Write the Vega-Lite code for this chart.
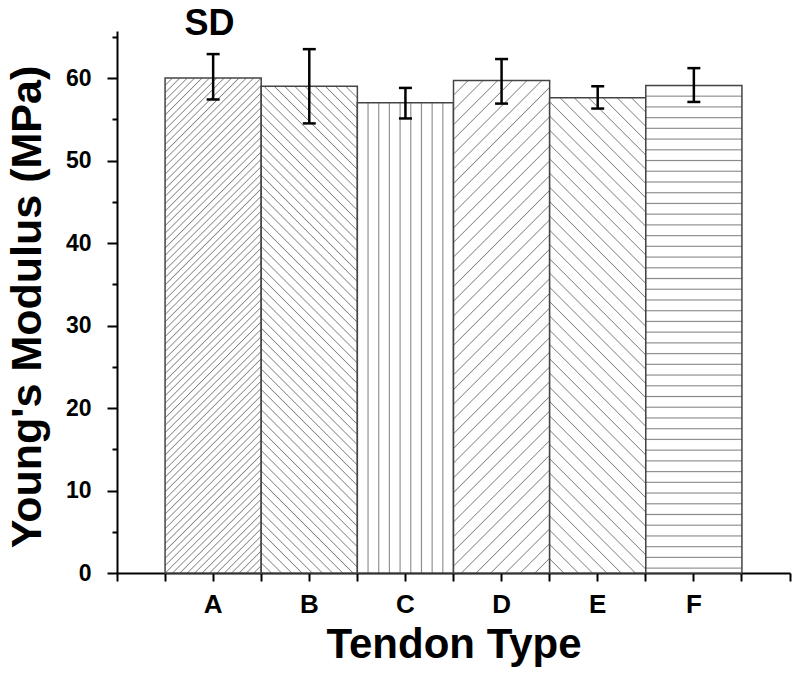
{
"$schema": "https://vega.github.io/schema/vega-lite/v6.json",
"width": 673, "height": 542,
"autosize": {"type": "none"},
"padding": {"left": 117, "top": 31, "right": 10, "bottom": 103},
"background": "white",
"title": {"text": "SD", "anchor": "start", "frame": "group", "orient": "top", "font": "Liberation Sans", "fontSize": 36, "fontWeight": "bold", "color": "#000", "baseline": "alphabetic", "offset": 0, "dx": 67.5, "dy": 40},
"config": {"view": {"stroke": null}, "axis": {"domainColor": "#000", "domainWidth": 2, "tickColor": "#000", "tickWidth": 2, "grid": false, "zindex": 1, "labelFont": "Liberation Sans", "labelFontWeight": "bold", "labelColor": "#000", "titleFont": "Liberation Sans", "titleFontWeight": "bold", "titleColor": "#000"}},
"data": {"values": [
{"type": "A", "mean": 60.0, "lo": 57.4, "hi": 62.9},
{"type": "B", "mean": 59.0, "lo": 54.5, "hi": 63.5},
{"type": "C", "mean": 57.0, "lo": 55.1, "hi": 58.8},
{"type": "D", "mean": 59.7, "lo": 56.9, "hi": 62.3},
{"type": "E", "mean": 57.6, "lo": 56.3, "hi": 59.0},
{"type": "F", "mean": 59.1, "lo": 57.1, "hi": 61.2}
]},
"resolve": {"axis": {"x": "independent", "y": "independent"}},
"layer": [
{"transform": [{"filter": "datum.type === 'A'"}],
 "mark": {"type": "bar", "stroke": "#444", "strokeWidth": 1.5, "fill": {"gradient": "linear", "x1": 0, "y1": 0, "x2": 0.22352, "y2": 1.15084, "stops": [
{"offset":0,"color":"#888"},{"offset":0.002,"color":"#fff"},{"offset":0.0105,"color":"#fff"},
{"offset":0.0125,"color":"#888"},{"offset":0.0145,"color":"#fff"},{"offset":0.023,"color":"#fff"},
{"offset":0.025,"color":"#888"},{"offset":0.027,"color":"#fff"},{"offset":0.0355,"color":"#fff"},
{"offset":0.0375,"color":"#888"},{"offset":0.0395,"color":"#fff"},{"offset":0.048,"color":"#fff"},
{"offset":0.05,"color":"#888"},{"offset":0.052,"color":"#fff"},{"offset":0.0605,"color":"#fff"},
{"offset":0.0625,"color":"#888"},{"offset":0.0645,"color":"#fff"},{"offset":0.073,"color":"#fff"},
{"offset":0.075,"color":"#888"},{"offset":0.077,"color":"#fff"},{"offset":0.0855,"color":"#fff"},
{"offset":0.0875,"color":"#888"},{"offset":0.0895,"color":"#fff"},{"offset":0.098,"color":"#fff"},
{"offset":0.1,"color":"#888"},{"offset":0.102,"color":"#fff"},{"offset":0.1105,"color":"#fff"},
{"offset":0.1125,"color":"#888"},{"offset":0.1145,"color":"#fff"},{"offset":0.123,"color":"#fff"},
{"offset":0.125,"color":"#888"},{"offset":0.127,"color":"#fff"},{"offset":0.1355,"color":"#fff"},
{"offset":0.1375,"color":"#888"},{"offset":0.1395,"color":"#fff"},{"offset":0.148,"color":"#fff"},
{"offset":0.15,"color":"#888"},{"offset":0.152,"color":"#fff"},{"offset":0.1605,"color":"#fff"},
{"offset":0.1625,"color":"#888"},{"offset":0.1645,"color":"#fff"},{"offset":0.173,"color":"#fff"},
{"offset":0.175,"color":"#888"},{"offset":0.177,"color":"#fff"},{"offset":0.1855,"color":"#fff"},
{"offset":0.1875,"color":"#888"},{"offset":0.1895,"color":"#fff"},{"offset":0.198,"color":"#fff"},
{"offset":0.2,"color":"#888"},{"offset":0.202,"color":"#fff"},{"offset":0.2105,"color":"#fff"},
{"offset":0.2125,"color":"#888"},{"offset":0.2145,"color":"#fff"},{"offset":0.223,"color":"#fff"},
{"offset":0.225,"color":"#888"},{"offset":0.227,"color":"#fff"},{"offset":0.2355,"color":"#fff"},
{"offset":0.2375,"color":"#888"},{"offset":0.2395,"color":"#fff"},{"offset":0.248,"color":"#fff"},
{"offset":0.25,"color":"#888"},{"offset":0.252,"color":"#fff"},{"offset":0.2605,"color":"#fff"},
{"offset":0.2625,"color":"#888"},{"offset":0.2645,"color":"#fff"},{"offset":0.273,"color":"#fff"},
{"offset":0.275,"color":"#888"},{"offset":0.277,"color":"#fff"},{"offset":0.2855,"color":"#fff"},
{"offset":0.2875,"color":"#888"},{"offset":0.2895,"color":"#fff"},{"offset":0.298,"color":"#fff"},
{"offset":0.3,"color":"#888"},{"offset":0.302,"color":"#fff"},{"offset":0.3105,"color":"#fff"},
{"offset":0.3125,"color":"#888"},{"offset":0.3145,"color":"#fff"},{"offset":0.323,"color":"#fff"},
{"offset":0.325,"color":"#888"},{"offset":0.327,"color":"#fff"},{"offset":0.3355,"color":"#fff"},
{"offset":0.3375,"color":"#888"},{"offset":0.3395,"color":"#fff"},{"offset":0.348,"color":"#fff"},
{"offset":0.35,"color":"#888"},{"offset":0.352,"color":"#fff"},{"offset":0.3605,"color":"#fff"},
{"offset":0.3625,"color":"#888"},{"offset":0.3645,"color":"#fff"},{"offset":0.373,"color":"#fff"},
{"offset":0.375,"color":"#888"},{"offset":0.377,"color":"#fff"},{"offset":0.3855,"color":"#fff"},
{"offset":0.3875,"color":"#888"},{"offset":0.3895,"color":"#fff"},{"offset":0.398,"color":"#fff"},
{"offset":0.4,"color":"#888"},{"offset":0.402,"color":"#fff"},{"offset":0.4105,"color":"#fff"},
{"offset":0.4125,"color":"#888"},{"offset":0.4145,"color":"#fff"},{"offset":0.423,"color":"#fff"},
{"offset":0.425,"color":"#888"},{"offset":0.427,"color":"#fff"},{"offset":0.4355,"color":"#fff"},
{"offset":0.4375,"color":"#888"},{"offset":0.4395,"color":"#fff"},{"offset":0.448,"color":"#fff"},
{"offset":0.45,"color":"#888"},{"offset":0.452,"color":"#fff"},{"offset":0.4605,"color":"#fff"},
{"offset":0.4625,"color":"#888"},{"offset":0.4645,"color":"#fff"},{"offset":0.473,"color":"#fff"},
{"offset":0.475,"color":"#888"},{"offset":0.477,"color":"#fff"},{"offset":0.4855,"color":"#fff"},
{"offset":0.4875,"color":"#888"},{"offset":0.4895,"color":"#fff"},{"offset":0.498,"color":"#fff"},
{"offset":0.5,"color":"#888"},{"offset":0.502,"color":"#fff"},{"offset":0.5105,"color":"#fff"},
{"offset":0.5125,"color":"#888"},{"offset":0.5145,"color":"#fff"},{"offset":0.523,"color":"#fff"},
{"offset":0.525,"color":"#888"},{"offset":0.527,"color":"#fff"},{"offset":0.5355,"color":"#fff"},
{"offset":0.5375,"color":"#888"},{"offset":0.5395,"color":"#fff"},{"offset":0.548,"color":"#fff"},
{"offset":0.55,"color":"#888"},{"offset":0.552,"color":"#fff"},{"offset":0.5605,"color":"#fff"},
{"offset":0.5625,"color":"#888"},{"offset":0.5645,"color":"#fff"},{"offset":0.573,"color":"#fff"},
{"offset":0.575,"color":"#888"},{"offset":0.577,"color":"#fff"},{"offset":0.5855,"color":"#fff"},
{"offset":0.5875,"color":"#888"},{"offset":0.5895,"color":"#fff"},{"offset":0.598,"color":"#fff"},
{"offset":0.6,"color":"#888"},{"offset":0.602,"color":"#fff"},{"offset":0.6105,"color":"#fff"},
{"offset":0.6125,"color":"#888"},{"offset":0.6145,"color":"#fff"},{"offset":0.623,"color":"#fff"},
{"offset":0.625,"color":"#888"},{"offset":0.627,"color":"#fff"},{"offset":0.6355,"color":"#fff"},
{"offset":0.6375,"color":"#888"},{"offset":0.6395,"color":"#fff"},{"offset":0.648,"color":"#fff"},
{"offset":0.65,"color":"#888"},{"offset":0.652,"color":"#fff"},{"offset":0.6605,"color":"#fff"},
{"offset":0.6625,"color":"#888"},{"offset":0.6645,"color":"#fff"},{"offset":0.673,"color":"#fff"},
{"offset":0.675,"color":"#888"},{"offset":0.677,"color":"#fff"},{"offset":0.6855,"color":"#fff"},
{"offset":0.6875,"color":"#888"},{"offset":0.6895,"color":"#fff"},{"offset":0.698,"color":"#fff"},
{"offset":0.7,"color":"#888"},{"offset":0.702,"color":"#fff"},{"offset":0.7105,"color":"#fff"},
{"offset":0.7125,"color":"#888"},{"offset":0.7145,"color":"#fff"},{"offset":0.723,"color":"#fff"},
{"offset":0.725,"color":"#888"},{"offset":0.727,"color":"#fff"},{"offset":0.7355,"color":"#fff"},
{"offset":0.7375,"color":"#888"},{"offset":0.7395,"color":"#fff"},{"offset":0.748,"color":"#fff"},
{"offset":0.75,"color":"#888"},{"offset":0.752,"color":"#fff"},{"offset":0.7605,"color":"#fff"},
{"offset":0.7625,"color":"#888"},{"offset":0.7645,"color":"#fff"},{"offset":0.773,"color":"#fff"},
{"offset":0.775,"color":"#888"},{"offset":0.777,"color":"#fff"},{"offset":0.7855,"color":"#fff"},
{"offset":0.7875,"color":"#888"},{"offset":0.7895,"color":"#fff"},{"offset":0.798,"color":"#fff"},
{"offset":0.8,"color":"#888"},{"offset":0.802,"color":"#fff"},{"offset":0.8105,"color":"#fff"},
{"offset":0.8125,"color":"#888"},{"offset":0.8145,"color":"#fff"},{"offset":0.823,"color":"#fff"},
{"offset":0.825,"color":"#888"},{"offset":0.827,"color":"#fff"},{"offset":0.8355,"color":"#fff"},
{"offset":0.8375,"color":"#888"},{"offset":0.8395,"color":"#fff"},{"offset":0.848,"color":"#fff"},
{"offset":0.85,"color":"#888"},{"offset":0.852,"color":"#fff"},{"offset":0.8605,"color":"#fff"},
{"offset":0.8625,"color":"#888"},{"offset":0.8645,"color":"#fff"},{"offset":0.873,"color":"#fff"},
{"offset":0.875,"color":"#888"},{"offset":0.877,"color":"#fff"},{"offset":0.8855,"color":"#fff"},
{"offset":0.8875,"color":"#888"},{"offset":0.8895,"color":"#fff"},{"offset":0.898,"color":"#fff"},
{"offset":0.9,"color":"#888"},{"offset":0.902,"color":"#fff"},{"offset":0.9105,"color":"#fff"},
{"offset":0.9125,"color":"#888"},{"offset":0.9145,"color":"#fff"},{"offset":0.923,"color":"#fff"},
{"offset":0.925,"color":"#888"},{"offset":0.927,"color":"#fff"},{"offset":0.9355,"color":"#fff"},
{"offset":0.9375,"color":"#888"},{"offset":0.9395,"color":"#fff"},{"offset":0.948,"color":"#fff"},
{"offset":0.95,"color":"#888"},{"offset":0.952,"color":"#fff"},{"offset":0.9605,"color":"#fff"},
{"offset":0.9625,"color":"#888"},{"offset":0.9645,"color":"#fff"},{"offset":0.973,"color":"#fff"},
{"offset":0.975,"color":"#888"},{"offset":0.977,"color":"#fff"},{"offset":0.9855,"color":"#fff"},
{"offset":0.9875,"color":"#888"},{"offset":0.9895,"color":"#fff"},{"offset":0.998,"color":"#fff"},
{"offset":1,"color":"#888"}
 ]}},
 "encoding": {
  "x": {"field": "type", "type": "nominal", "scale": {"domain": ["A","B","C","D","E","F"], "paddingInner": 0, "paddingOuter": 0.5},
        "axis": {"orient": "bottom", "title": "Tendon Type", "titleFontSize": 42, "titleX": 336.5, "titleY": 84, "titleAlign": "center", "titleBaseline": "alphabetic", "labelAngle": 0, "labelFontSize": 26, "labelBaseline": "alphabetic", "labelPadding": 31, "tickSize": 8}},
  "y": {"field": "mean", "type": "quantitative", "scale": {"domain": [0, 65.7], "nice": false, "zero": true},
        "axis": {"orient": "left", "values": [0,10,20,30,40,50,60], "title": "Young's Modulus (MPa)", "titleFontSize": 43, "titleAngle": -90, "titleX": -77, "titleY": 275.5, "titleAlign": "center", "titleBaseline": "alphabetic", "labelFontSize": 23, "labelPadding": 16, "tickSize": 10}}
 }},
{"transform": [{"filter": "datum.type === 'B'"}],
 "mark": {"type": "bar", "stroke": "#444", "strokeWidth": 1.5, "fill": {"gradient": "linear", "x1": 0, "y1": 1, "x2": 0.22767, "y2": -0.15256, "stops": [
{"offset":0,"color":"#888"},{"offset":0.002,"color":"#fff"},{"offset":0.0155,"color":"#fff"},
{"offset":0.0175,"color":"#888"},{"offset":0.0195,"color":"#fff"},{"offset":0.033,"color":"#fff"},
{"offset":0.035,"color":"#888"},{"offset":0.037,"color":"#fff"},{"offset":0.0505,"color":"#fff"},
{"offset":0.0525,"color":"#888"},{"offset":0.0545,"color":"#fff"},{"offset":0.068,"color":"#fff"},
{"offset":0.07,"color":"#888"},{"offset":0.072,"color":"#fff"},{"offset":0.0855,"color":"#fff"},
{"offset":0.0875,"color":"#888"},{"offset":0.0895,"color":"#fff"},{"offset":0.103,"color":"#fff"},
{"offset":0.105,"color":"#888"},{"offset":0.107,"color":"#fff"},{"offset":0.1205,"color":"#fff"},
{"offset":0.1225,"color":"#888"},{"offset":0.1245,"color":"#fff"},{"offset":0.138,"color":"#fff"},
{"offset":0.14,"color":"#888"},{"offset":0.142,"color":"#fff"},{"offset":0.1555,"color":"#fff"},
{"offset":0.1575,"color":"#888"},{"offset":0.1595,"color":"#fff"},{"offset":0.173,"color":"#fff"},
{"offset":0.175,"color":"#888"},{"offset":0.177,"color":"#fff"},{"offset":0.1905,"color":"#fff"},
{"offset":0.1925,"color":"#888"},{"offset":0.1945,"color":"#fff"},{"offset":0.208,"color":"#fff"},
{"offset":0.21,"color":"#888"},{"offset":0.212,"color":"#fff"},{"offset":0.2255,"color":"#fff"},
{"offset":0.2275,"color":"#888"},{"offset":0.2295,"color":"#fff"},{"offset":0.243,"color":"#fff"},
{"offset":0.245,"color":"#888"},{"offset":0.247,"color":"#fff"},{"offset":0.2605,"color":"#fff"},
{"offset":0.2625,"color":"#888"},{"offset":0.2645,"color":"#fff"},{"offset":0.278,"color":"#fff"},
{"offset":0.28,"color":"#888"},{"offset":0.282,"color":"#fff"},{"offset":0.2955,"color":"#fff"},
{"offset":0.2975,"color":"#888"},{"offset":0.2995,"color":"#fff"},{"offset":0.313,"color":"#fff"},
{"offset":0.315,"color":"#888"},{"offset":0.317,"color":"#fff"},{"offset":0.3305,"color":"#fff"},
{"offset":0.3325,"color":"#888"},{"offset":0.3345,"color":"#fff"},{"offset":0.348,"color":"#fff"},
{"offset":0.35,"color":"#888"},{"offset":0.352,"color":"#fff"},{"offset":0.3655,"color":"#fff"},
{"offset":0.3675,"color":"#888"},{"offset":0.3695,"color":"#fff"},{"offset":0.383,"color":"#fff"},
{"offset":0.385,"color":"#888"},{"offset":0.387,"color":"#fff"},{"offset":0.4005,"color":"#fff"},
{"offset":0.4025,"color":"#888"},{"offset":0.4045,"color":"#fff"},{"offset":0.418,"color":"#fff"},
{"offset":0.42,"color":"#888"},{"offset":0.422,"color":"#fff"},{"offset":0.4355,"color":"#fff"},
{"offset":0.4375,"color":"#888"},{"offset":0.4395,"color":"#fff"},{"offset":0.453,"color":"#fff"},
{"offset":0.455,"color":"#888"},{"offset":0.457,"color":"#fff"},{"offset":0.4705,"color":"#fff"},
{"offset":0.4725,"color":"#888"},{"offset":0.4745,"color":"#fff"},{"offset":0.488,"color":"#fff"},
{"offset":0.49,"color":"#888"},{"offset":0.492,"color":"#fff"},{"offset":0.5055,"color":"#fff"},
{"offset":0.5075,"color":"#888"},{"offset":0.5095,"color":"#fff"},{"offset":0.523,"color":"#fff"},
{"offset":0.525,"color":"#888"},{"offset":0.527,"color":"#fff"},{"offset":0.5405,"color":"#fff"},
{"offset":0.5425,"color":"#888"},{"offset":0.5445,"color":"#fff"},{"offset":0.558,"color":"#fff"},
{"offset":0.56,"color":"#888"},{"offset":0.562,"color":"#fff"},{"offset":0.5755,"color":"#fff"},
{"offset":0.5775,"color":"#888"},{"offset":0.5795,"color":"#fff"},{"offset":0.593,"color":"#fff"},
{"offset":0.595,"color":"#888"},{"offset":0.597,"color":"#fff"},{"offset":0.6105,"color":"#fff"},
{"offset":0.6125,"color":"#888"},{"offset":0.6145,"color":"#fff"},{"offset":0.628,"color":"#fff"},
{"offset":0.63,"color":"#888"},{"offset":0.632,"color":"#fff"},{"offset":0.6455,"color":"#fff"},
{"offset":0.6475,"color":"#888"},{"offset":0.6495,"color":"#fff"},{"offset":0.663,"color":"#fff"},
{"offset":0.665,"color":"#888"},{"offset":0.667,"color":"#fff"},{"offset":0.6805,"color":"#fff"},
{"offset":0.6825,"color":"#888"},{"offset":0.6845,"color":"#fff"},{"offset":0.698,"color":"#fff"},
{"offset":0.7,"color":"#888"},{"offset":0.702,"color":"#fff"},{"offset":0.7155,"color":"#fff"},
{"offset":0.7175,"color":"#888"},{"offset":0.7195,"color":"#fff"},{"offset":0.733,"color":"#fff"},
{"offset":0.735,"color":"#888"},{"offset":0.737,"color":"#fff"},{"offset":0.7505,"color":"#fff"},
{"offset":0.7525,"color":"#888"},{"offset":0.7545,"color":"#fff"},{"offset":0.768,"color":"#fff"},
{"offset":0.77,"color":"#888"},{"offset":0.772,"color":"#fff"},{"offset":0.7855,"color":"#fff"},
{"offset":0.7875,"color":"#888"},{"offset":0.7895,"color":"#fff"},{"offset":0.803,"color":"#fff"},
{"offset":0.805,"color":"#888"},{"offset":0.807,"color":"#fff"},{"offset":0.8205,"color":"#fff"},
{"offset":0.8225,"color":"#888"},{"offset":0.8245,"color":"#fff"},{"offset":0.838,"color":"#fff"},
{"offset":0.84,"color":"#888"},{"offset":0.842,"color":"#fff"},{"offset":0.8555,"color":"#fff"},
{"offset":0.8575,"color":"#888"},{"offset":0.8595,"color":"#fff"},{"offset":0.873,"color":"#fff"},
{"offset":0.875,"color":"#888"},{"offset":0.877,"color":"#fff"},{"offset":0.8905,"color":"#fff"},
{"offset":0.8925,"color":"#888"},{"offset":0.8945,"color":"#fff"},{"offset":0.908,"color":"#fff"},
{"offset":0.91,"color":"#888"},{"offset":0.912,"color":"#fff"},{"offset":0.9255,"color":"#fff"},
{"offset":0.9275,"color":"#888"},{"offset":0.9295,"color":"#fff"},{"offset":0.943,"color":"#fff"},
{"offset":0.945,"color":"#888"},{"offset":0.947,"color":"#fff"},{"offset":0.9605,"color":"#fff"},
{"offset":0.9625,"color":"#888"},{"offset":0.9645,"color":"#fff"},{"offset":0.978,"color":"#fff"},
{"offset":0.98,"color":"#888"},{"offset":0.982,"color":"#fff"},{"offset":0.9955,"color":"#fff"},
{"offset":0.9975,"color":"#888"},{"offset":0.9995,"color":"#fff"}
 ]}},
 "encoding": {
  "x": {"field": "type", "type": "nominal", "axis": {"orient": "bottom", "bandPosition": 1, "tickExtra": true, "labels": false, "domain": false, "title": null, "tickSize": 8}},
  "y": {"field": "mean", "type": "quantitative", "axis": {"orient": "left", "values": [5,15,25,35,45,55,65], "labels": false, "domain": false, "title": null, "tickSize": 5}}
 }},
{"transform": [{"filter": "datum.type === 'C'"}],
 "mark": {"type": "bar", "stroke": "#444", "strokeWidth": 1.5, "fill": {"gradient": "linear", "x1": 0, "y1": 0, "x2": 1, "y2": 0, "stops": [
{"offset":0,"color":"#888"},{"offset":0.0114,"color":"#fff"},{"offset":0.0997,"color":"#fff"},
{"offset":0.1111,"color":"#888"},{"offset":0.1225,"color":"#fff"},{"offset":0.2108,"color":"#fff"},
{"offset":0.2222,"color":"#888"},{"offset":0.2336,"color":"#fff"},{"offset":0.3219,"color":"#fff"},
{"offset":0.3333,"color":"#888"},{"offset":0.3447,"color":"#fff"},{"offset":0.433,"color":"#fff"},
{"offset":0.4444,"color":"#888"},{"offset":0.4558,"color":"#fff"},{"offset":0.5441,"color":"#fff"},
{"offset":0.5556,"color":"#888"},{"offset":0.567,"color":"#fff"},{"offset":0.6553,"color":"#fff"},
{"offset":0.6667,"color":"#888"},{"offset":0.6781,"color":"#fff"},{"offset":0.7664,"color":"#fff"},
{"offset":0.7778,"color":"#888"},{"offset":0.7892,"color":"#fff"},{"offset":0.8775,"color":"#fff"},
{"offset":0.8889,"color":"#888"},{"offset":0.9003,"color":"#fff"},{"offset":0.9886,"color":"#fff"},
{"offset":1,"color":"#888"}
 ]}},
 "encoding": {
  "x": {"field": "type", "type": "nominal", "axis": {"orient": "bottom", "values": ["A"], "tickOffset": -96.14, "labels": false, "domain": false, "title": null, "tickSize": 8}},
  "y": {"field": "mean", "type": "quantitative", "axis": null}
 }},
{"transform": [{"filter": "datum.type === 'D'"}],
 "mark": {"type": "bar", "stroke": "#444", "strokeWidth": 1.5, "fill": {"gradient": "linear", "x1": 0, "y1": 0, "x2": 0.22475, "y2": 1.15133, "stops": [
{"offset":0,"color":"#888"},{"offset":0.002,"color":"#fff"},{"offset":0.023,"color":"#fff"},
{"offset":0.025,"color":"#888"},{"offset":0.027,"color":"#fff"},{"offset":0.048,"color":"#fff"},
{"offset":0.05,"color":"#888"},{"offset":0.052,"color":"#fff"},{"offset":0.073,"color":"#fff"},
{"offset":0.075,"color":"#888"},{"offset":0.077,"color":"#fff"},{"offset":0.098,"color":"#fff"},
{"offset":0.1,"color":"#888"},{"offset":0.102,"color":"#fff"},{"offset":0.123,"color":"#fff"},
{"offset":0.125,"color":"#888"},{"offset":0.127,"color":"#fff"},{"offset":0.148,"color":"#fff"},
{"offset":0.15,"color":"#888"},{"offset":0.152,"color":"#fff"},{"offset":0.173,"color":"#fff"},
{"offset":0.175,"color":"#888"},{"offset":0.177,"color":"#fff"},{"offset":0.198,"color":"#fff"},
{"offset":0.2,"color":"#888"},{"offset":0.202,"color":"#fff"},{"offset":0.223,"color":"#fff"},
{"offset":0.225,"color":"#888"},{"offset":0.227,"color":"#fff"},{"offset":0.248,"color":"#fff"},
{"offset":0.25,"color":"#888"},{"offset":0.252,"color":"#fff"},{"offset":0.273,"color":"#fff"},
{"offset":0.275,"color":"#888"},{"offset":0.277,"color":"#fff"},{"offset":0.298,"color":"#fff"},
{"offset":0.3,"color":"#888"},{"offset":0.302,"color":"#fff"},{"offset":0.323,"color":"#fff"},
{"offset":0.325,"color":"#888"},{"offset":0.327,"color":"#fff"},{"offset":0.348,"color":"#fff"},
{"offset":0.35,"color":"#888"},{"offset":0.352,"color":"#fff"},{"offset":0.373,"color":"#fff"},
{"offset":0.375,"color":"#888"},{"offset":0.377,"color":"#fff"},{"offset":0.398,"color":"#fff"},
{"offset":0.4,"color":"#888"},{"offset":0.402,"color":"#fff"},{"offset":0.423,"color":"#fff"},
{"offset":0.425,"color":"#888"},{"offset":0.427,"color":"#fff"},{"offset":0.448,"color":"#fff"},
{"offset":0.45,"color":"#888"},{"offset":0.452,"color":"#fff"},{"offset":0.473,"color":"#fff"},
{"offset":0.475,"color":"#888"},{"offset":0.477,"color":"#fff"},{"offset":0.498,"color":"#fff"},
{"offset":0.5,"color":"#888"},{"offset":0.502,"color":"#fff"},{"offset":0.523,"color":"#fff"},
{"offset":0.525,"color":"#888"},{"offset":0.527,"color":"#fff"},{"offset":0.548,"color":"#fff"},
{"offset":0.55,"color":"#888"},{"offset":0.552,"color":"#fff"},{"offset":0.573,"color":"#fff"},
{"offset":0.575,"color":"#888"},{"offset":0.577,"color":"#fff"},{"offset":0.598,"color":"#fff"},
{"offset":0.6,"color":"#888"},{"offset":0.602,"color":"#fff"},{"offset":0.623,"color":"#fff"},
{"offset":0.625,"color":"#888"},{"offset":0.627,"color":"#fff"},{"offset":0.648,"color":"#fff"},
{"offset":0.65,"color":"#888"},{"offset":0.652,"color":"#fff"},{"offset":0.673,"color":"#fff"},
{"offset":0.675,"color":"#888"},{"offset":0.677,"color":"#fff"},{"offset":0.698,"color":"#fff"},
{"offset":0.7,"color":"#888"},{"offset":0.702,"color":"#fff"},{"offset":0.723,"color":"#fff"},
{"offset":0.725,"color":"#888"},{"offset":0.727,"color":"#fff"},{"offset":0.748,"color":"#fff"},
{"offset":0.75,"color":"#888"},{"offset":0.752,"color":"#fff"},{"offset":0.773,"color":"#fff"},
{"offset":0.775,"color":"#888"},{"offset":0.777,"color":"#fff"},{"offset":0.798,"color":"#fff"},
{"offset":0.8,"color":"#888"},{"offset":0.802,"color":"#fff"},{"offset":0.823,"color":"#fff"},
{"offset":0.825,"color":"#888"},{"offset":0.827,"color":"#fff"},{"offset":0.848,"color":"#fff"},
{"offset":0.85,"color":"#888"},{"offset":0.852,"color":"#fff"},{"offset":0.873,"color":"#fff"},
{"offset":0.875,"color":"#888"},{"offset":0.877,"color":"#fff"},{"offset":0.898,"color":"#fff"},
{"offset":0.9,"color":"#888"},{"offset":0.902,"color":"#fff"},{"offset":0.923,"color":"#fff"},
{"offset":0.925,"color":"#888"},{"offset":0.927,"color":"#fff"},{"offset":0.948,"color":"#fff"},
{"offset":0.95,"color":"#888"},{"offset":0.952,"color":"#fff"},{"offset":0.973,"color":"#fff"},
{"offset":0.975,"color":"#888"},{"offset":0.977,"color":"#fff"},{"offset":0.998,"color":"#fff"},
{"offset":1,"color":"#888"}
 ]}},
 "encoding": {
  "x": {"field": "type", "type": "nominal", "axis": {"orient": "bottom", "values": ["F"], "tickOffset": 96.14, "labels": false, "domain": false, "title": null, "tickSize": 8}},
  "y": {"field": "mean", "type": "quantitative", "axis": null}
 }},
{"transform": [{"filter": "datum.type === 'E'"}],
 "mark": {"type": "bar", "stroke": "#444", "strokeWidth": 1.5, "fill": {"gradient": "linear", "x1": 0, "y1": 1, "x2": 0.23368, "y2": -0.15502, "stops": [
{"offset":0,"color":"#888"},{"offset":0.002,"color":"#fff"},{"offset":0.023,"color":"#fff"},
{"offset":0.025,"color":"#888"},{"offset":0.027,"color":"#fff"},{"offset":0.048,"color":"#fff"},
{"offset":0.05,"color":"#888"},{"offset":0.052,"color":"#fff"},{"offset":0.073,"color":"#fff"},
{"offset":0.075,"color":"#888"},{"offset":0.077,"color":"#fff"},{"offset":0.098,"color":"#fff"},
{"offset":0.1,"color":"#888"},{"offset":0.102,"color":"#fff"},{"offset":0.123,"color":"#fff"},
{"offset":0.125,"color":"#888"},{"offset":0.127,"color":"#fff"},{"offset":0.148,"color":"#fff"},
{"offset":0.15,"color":"#888"},{"offset":0.152,"color":"#fff"},{"offset":0.173,"color":"#fff"},
{"offset":0.175,"color":"#888"},{"offset":0.177,"color":"#fff"},{"offset":0.198,"color":"#fff"},
{"offset":0.2,"color":"#888"},{"offset":0.202,"color":"#fff"},{"offset":0.223,"color":"#fff"},
{"offset":0.225,"color":"#888"},{"offset":0.227,"color":"#fff"},{"offset":0.248,"color":"#fff"},
{"offset":0.25,"color":"#888"},{"offset":0.252,"color":"#fff"},{"offset":0.273,"color":"#fff"},
{"offset":0.275,"color":"#888"},{"offset":0.277,"color":"#fff"},{"offset":0.298,"color":"#fff"},
{"offset":0.3,"color":"#888"},{"offset":0.302,"color":"#fff"},{"offset":0.323,"color":"#fff"},
{"offset":0.325,"color":"#888"},{"offset":0.327,"color":"#fff"},{"offset":0.348,"color":"#fff"},
{"offset":0.35,"color":"#888"},{"offset":0.352,"color":"#fff"},{"offset":0.373,"color":"#fff"},
{"offset":0.375,"color":"#888"},{"offset":0.377,"color":"#fff"},{"offset":0.398,"color":"#fff"},
{"offset":0.4,"color":"#888"},{"offset":0.402,"color":"#fff"},{"offset":0.423,"color":"#fff"},
{"offset":0.425,"color":"#888"},{"offset":0.427,"color":"#fff"},{"offset":0.448,"color":"#fff"},
{"offset":0.45,"color":"#888"},{"offset":0.452,"color":"#fff"},{"offset":0.473,"color":"#fff"},
{"offset":0.475,"color":"#888"},{"offset":0.477,"color":"#fff"},{"offset":0.498,"color":"#fff"},
{"offset":0.5,"color":"#888"},{"offset":0.502,"color":"#fff"},{"offset":0.523,"color":"#fff"},
{"offset":0.525,"color":"#888"},{"offset":0.527,"color":"#fff"},{"offset":0.548,"color":"#fff"},
{"offset":0.55,"color":"#888"},{"offset":0.552,"color":"#fff"},{"offset":0.573,"color":"#fff"},
{"offset":0.575,"color":"#888"},{"offset":0.577,"color":"#fff"},{"offset":0.598,"color":"#fff"},
{"offset":0.6,"color":"#888"},{"offset":0.602,"color":"#fff"},{"offset":0.623,"color":"#fff"},
{"offset":0.625,"color":"#888"},{"offset":0.627,"color":"#fff"},{"offset":0.648,"color":"#fff"},
{"offset":0.65,"color":"#888"},{"offset":0.652,"color":"#fff"},{"offset":0.673,"color":"#fff"},
{"offset":0.675,"color":"#888"},{"offset":0.677,"color":"#fff"},{"offset":0.698,"color":"#fff"},
{"offset":0.7,"color":"#888"},{"offset":0.702,"color":"#fff"},{"offset":0.723,"color":"#fff"},
{"offset":0.725,"color":"#888"},{"offset":0.727,"color":"#fff"},{"offset":0.748,"color":"#fff"},
{"offset":0.75,"color":"#888"},{"offset":0.752,"color":"#fff"},{"offset":0.773,"color":"#fff"},
{"offset":0.775,"color":"#888"},{"offset":0.777,"color":"#fff"},{"offset":0.798,"color":"#fff"},
{"offset":0.8,"color":"#888"},{"offset":0.802,"color":"#fff"},{"offset":0.823,"color":"#fff"},
{"offset":0.825,"color":"#888"},{"offset":0.827,"color":"#fff"},{"offset":0.848,"color":"#fff"},
{"offset":0.85,"color":"#888"},{"offset":0.852,"color":"#fff"},{"offset":0.873,"color":"#fff"},
{"offset":0.875,"color":"#888"},{"offset":0.877,"color":"#fff"},{"offset":0.898,"color":"#fff"},
{"offset":0.9,"color":"#888"},{"offset":0.902,"color":"#fff"},{"offset":0.923,"color":"#fff"},
{"offset":0.925,"color":"#888"},{"offset":0.927,"color":"#fff"},{"offset":0.948,"color":"#fff"},
{"offset":0.95,"color":"#888"},{"offset":0.952,"color":"#fff"},{"offset":0.973,"color":"#fff"},
{"offset":0.975,"color":"#888"},{"offset":0.977,"color":"#fff"},{"offset":0.998,"color":"#fff"},
{"offset":1,"color":"#888"}
 ]}},
 "encoding": {
  "x": {"field": "type", "type": "nominal", "axis": null},
  "y": {"field": "mean", "type": "quantitative", "axis": null}
 }},
{"transform": [{"filter": "datum.type === 'F'"}],
 "mark": {"type": "bar", "stroke": "#444", "strokeWidth": 1.5, "fill": {"gradient": "linear", "x1": 0, "y1": 0, "x2": 0, "y2": 1, "stops": [
{"offset":0,"color":"#888"},{"offset":0.0023,"color":"#fff"},{"offset":0.0197,"color":"#fff"},
{"offset":0.022,"color":"#888"},{"offset":0.0243,"color":"#fff"},{"offset":0.0417,"color":"#fff"},
{"offset":0.044,"color":"#888"},{"offset":0.0463,"color":"#fff"},{"offset":0.0637,"color":"#fff"},
{"offset":0.066,"color":"#888"},{"offset":0.0683,"color":"#fff"},{"offset":0.0857,"color":"#fff"},
{"offset":0.088,"color":"#888"},{"offset":0.0903,"color":"#fff"},{"offset":0.1077,"color":"#fff"},
{"offset":0.11,"color":"#888"},{"offset":0.1123,"color":"#fff"},{"offset":0.1297,"color":"#fff"},
{"offset":0.132,"color":"#888"},{"offset":0.1343,"color":"#fff"},{"offset":0.1517,"color":"#fff"},
{"offset":0.154,"color":"#888"},{"offset":0.1563,"color":"#fff"},{"offset":0.1737,"color":"#fff"},
{"offset":0.176,"color":"#888"},{"offset":0.1783,"color":"#fff"},{"offset":0.1957,"color":"#fff"},
{"offset":0.198,"color":"#888"},{"offset":0.2003,"color":"#fff"},{"offset":0.2177,"color":"#fff"},
{"offset":0.22,"color":"#888"},{"offset":0.2223,"color":"#fff"},{"offset":0.2397,"color":"#fff"},
{"offset":0.242,"color":"#888"},{"offset":0.2443,"color":"#fff"},{"offset":0.2617,"color":"#fff"},
{"offset":0.264,"color":"#888"},{"offset":0.2663,"color":"#fff"},{"offset":0.2837,"color":"#fff"},
{"offset":0.286,"color":"#888"},{"offset":0.2883,"color":"#fff"},{"offset":0.3057,"color":"#fff"},
{"offset":0.308,"color":"#888"},{"offset":0.3103,"color":"#fff"},{"offset":0.3277,"color":"#fff"},
{"offset":0.33,"color":"#888"},{"offset":0.3323,"color":"#fff"},{"offset":0.3497,"color":"#fff"},
{"offset":0.352,"color":"#888"},{"offset":0.3543,"color":"#fff"},{"offset":0.3717,"color":"#fff"},
{"offset":0.374,"color":"#888"},{"offset":0.3763,"color":"#fff"},{"offset":0.3937,"color":"#fff"},
{"offset":0.396,"color":"#888"},{"offset":0.3983,"color":"#fff"},{"offset":0.4157,"color":"#fff"},
{"offset":0.418,"color":"#888"},{"offset":0.4203,"color":"#fff"},{"offset":0.4377,"color":"#fff"},
{"offset":0.44,"color":"#888"},{"offset":0.4423,"color":"#fff"},{"offset":0.4597,"color":"#fff"},
{"offset":0.462,"color":"#888"},{"offset":0.4643,"color":"#fff"},{"offset":0.4817,"color":"#fff"},
{"offset":0.484,"color":"#888"},{"offset":0.4863,"color":"#fff"},{"offset":0.5037,"color":"#fff"},
{"offset":0.506,"color":"#888"},{"offset":0.5083,"color":"#fff"},{"offset":0.5257,"color":"#fff"},
{"offset":0.528,"color":"#888"},{"offset":0.5303,"color":"#fff"},{"offset":0.5477,"color":"#fff"},
{"offset":0.55,"color":"#888"},{"offset":0.5523,"color":"#fff"},{"offset":0.5697,"color":"#fff"},
{"offset":0.572,"color":"#888"},{"offset":0.5743,"color":"#fff"},{"offset":0.5917,"color":"#fff"},
{"offset":0.594,"color":"#888"},{"offset":0.5963,"color":"#fff"},{"offset":0.6137,"color":"#fff"},
{"offset":0.616,"color":"#888"},{"offset":0.6183,"color":"#fff"},{"offset":0.6357,"color":"#fff"},
{"offset":0.638,"color":"#888"},{"offset":0.6403,"color":"#fff"},{"offset":0.6577,"color":"#fff"},
{"offset":0.66,"color":"#888"},{"offset":0.6623,"color":"#fff"},{"offset":0.6797,"color":"#fff"},
{"offset":0.682,"color":"#888"},{"offset":0.6843,"color":"#fff"},{"offset":0.7017,"color":"#fff"},
{"offset":0.704,"color":"#888"},{"offset":0.7063,"color":"#fff"},{"offset":0.7237,"color":"#fff"},
{"offset":0.726,"color":"#888"},{"offset":0.7283,"color":"#fff"},{"offset":0.7457,"color":"#fff"},
{"offset":0.748,"color":"#888"},{"offset":0.7503,"color":"#fff"},{"offset":0.7677,"color":"#fff"},
{"offset":0.77,"color":"#888"},{"offset":0.7723,"color":"#fff"},{"offset":0.7897,"color":"#fff"},
{"offset":0.792,"color":"#888"},{"offset":0.7943,"color":"#fff"},{"offset":0.8117,"color":"#fff"},
{"offset":0.814,"color":"#888"},{"offset":0.8163,"color":"#fff"},{"offset":0.8337,"color":"#fff"},
{"offset":0.836,"color":"#888"},{"offset":0.8383,"color":"#fff"},{"offset":0.8557,"color":"#fff"},
{"offset":0.858,"color":"#888"},{"offset":0.8603,"color":"#fff"},{"offset":0.8777,"color":"#fff"},
{"offset":0.88,"color":"#888"},{"offset":0.8823,"color":"#fff"},{"offset":0.8997,"color":"#fff"},
{"offset":0.902,"color":"#888"},{"offset":0.9043,"color":"#fff"},{"offset":0.9217,"color":"#fff"},
{"offset":0.924,"color":"#888"},{"offset":0.9263,"color":"#fff"},{"offset":0.9437,"color":"#fff"},
{"offset":0.946,"color":"#888"},{"offset":0.9483,"color":"#fff"},{"offset":0.9657,"color":"#fff"},
{"offset":0.968,"color":"#888"},{"offset":0.9703,"color":"#fff"},{"offset":0.9877,"color":"#fff"},
{"offset":0.99,"color":"#888"},{"offset":0.9923,"color":"#fff"}
 ]}},
 "encoding": {
  "x": {"field": "type", "type": "nominal", "axis": null},
  "y": {"field": "mean", "type": "quantitative", "axis": null}
 }},
{"mark": {"type": "rule", "color": "#000", "strokeWidth": 2.5},
 "encoding": {
  "x": {"field": "type", "type": "nominal", "axis": null},
  "y": {"field": "lo", "type": "quantitative", "axis": null},
  "y2": {"field": "hi"}
 }},
{"mark": {"type": "tick", "orient": "horizontal", "size": 13, "thickness": 2.5, "color": "#000", "opacity": 1},
 "encoding": {
  "x": {"field": "type", "type": "nominal", "axis": null},
  "y": {"field": "lo", "type": "quantitative", "axis": null}
 }},
{"mark": {"type": "tick", "orient": "horizontal", "size": 13, "thickness": 2.5, "color": "#000", "opacity": 1},
 "encoding": {
  "x": {"field": "type", "type": "nominal", "axis": null},
  "y": {"field": "hi", "type": "quantitative", "axis": null}
 }}
]
}
